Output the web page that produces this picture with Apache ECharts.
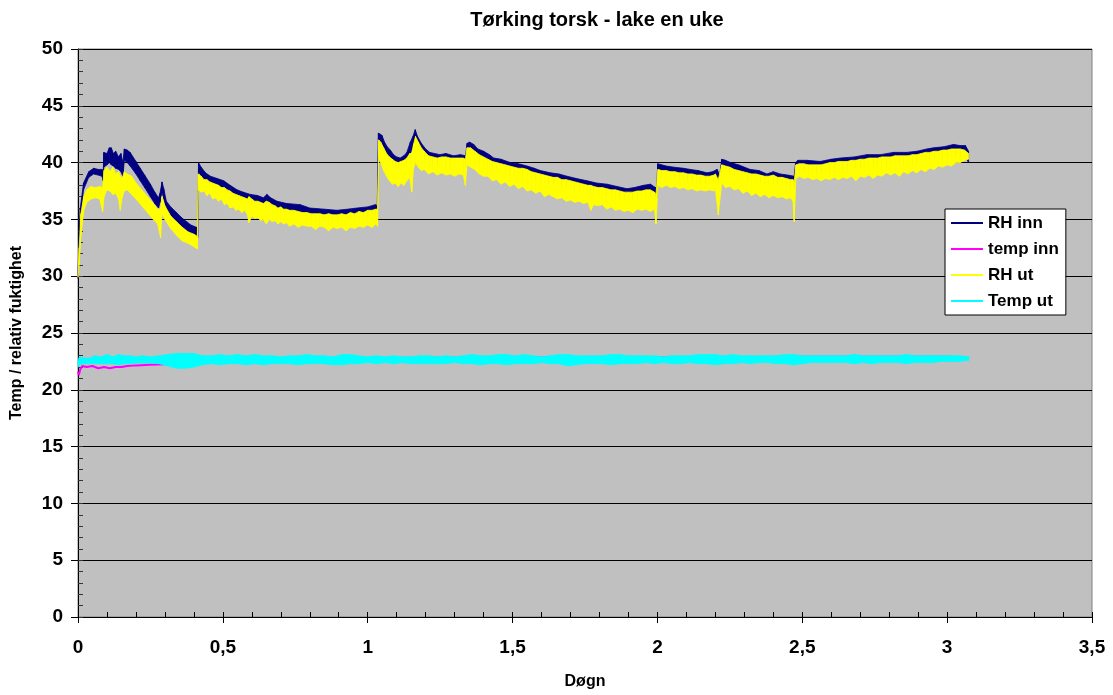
<!DOCTYPE html>
<html>
<head>
<meta charset="utf-8">
<title>Tørking torsk - lake en uke</title>
<script src="https://cdn.jsdelivr.net/npm/echarts@6/dist/echarts.min.js"></script>
<style>
html, body { margin: 0; padding: 0; background: #ffffff; }
#chart { width: 1113px; height: 695px; }
</style>
</head>
<body>
<div id="chart"></div>
<script>
// Døgn (x) and readings
const inX = [0, 0.004, 0.008, 0.019, 0.037, 0.054, 0.07, 0.083, 0.087, 0.089,
    0.1, 0.108, 0.115, 0.122, 0.13, 0.14, 0.148, 0.155, 0.16, 0.17,
    0.18, 0.2, 0.215, 0.23, 0.25, 0.265, 0.278, 0.283, 0.29, 0.296,
    0.305, 0.32, 0.34, 0.36, 0.375, 0.39, 0.409, 0.413, 0.416, 0.425,
    0.44, 0.457, 0.48, 0.503, 0.525, 0.549, 0.57, 0.595, 0.62, 0.64,
    0.652, 0.665, 0.687, 0.72, 0.767, 0.8, 0.85, 0.894, 0.93, 0.963,
    1.0, 1.026, 1.033, 1.037, 1.049, 1.058, 1.067, 1.078, 1.089, 1.1,
    1.112, 1.125, 1.135, 1.147, 1.156, 1.164, 1.172, 1.185, 1.2, 1.214,
    1.249, 1.27, 1.296, 1.32, 1.338, 1.343, 1.352, 1.366, 1.38, 1.4,
    1.42, 1.435, 1.46, 1.492, 1.52, 1.55, 1.575, 1.596, 1.63, 1.66,
    1.688, 1.72, 1.757, 1.79, 1.826, 1.86, 1.895, 1.92, 1.952, 1.976,
    1.993, 1.998, 2.001, 2.03, 2.056, 2.09, 2.113, 2.14, 2.171, 2.19,
    2.206, 2.215, 2.222, 2.235, 2.252, 2.28, 2.32, 2.35, 2.378, 2.4,
    2.424, 2.45, 2.472, 2.477, 2.485, 2.515, 2.562, 2.6, 2.631, 2.68,
    2.723, 2.77, 2.815, 2.86, 2.896, 2.93, 2.953, 2.99, 3.022, 3.045,
    3.063, 3.074];
const inHi = [30.2, 33.8, 36.0, 38.2, 39.2, 39.5, 39.4, 39.4, 39.2, 40.9,
    40.8, 41.3, 41.3, 40.8, 41.0, 40.5, 40.8, 40.0, 41.2, 41.1,
    40.9, 40.1, 39.5, 38.9, 38.1, 37.4, 36.9, 37.3, 38.3, 37.7,
    36.6, 36.1, 35.6, 35.1, 34.8, 34.5, 34.3, 34.1, 40.0, 39.6,
    39.1, 38.8, 38.6, 38.4, 38.0, 37.6, 37.4, 37.2, 37.1, 36.9,
    37.2, 36.9, 36.6, 36.4, 36.3, 36.0, 35.9, 35.8, 35.9, 36.0,
    36.1, 36.3, 36.2, 42.6, 42.4, 41.8, 41.4, 41.1, 40.7, 40.5,
    40.4, 40.6, 40.9, 41.8, 42.3, 42.9, 42.3, 41.7, 41.2, 40.9,
    40.7, 40.8, 40.6, 40.7, 40.6, 41.7, 41.8, 41.6, 41.2, 41.0,
    40.7, 40.4, 40.3, 40.0, 39.9, 39.7, 39.5, 39.3, 39.1, 39.0,
    38.8, 38.6, 38.4, 38.2, 38.1, 37.9, 37.7, 37.8, 38.0, 38.1,
    37.8, 37.9, 39.9, 39.7, 39.6, 39.5, 39.4, 39.3, 39.1, 39.2,
    39.4, 38.9, 40.3, 40.2, 40.0, 39.8, 39.4, 39.3, 39.0, 39.2,
    39.0, 38.9, 38.8, 40.0, 40.2, 40.2, 40.1, 40.3, 40.4, 40.5,
    40.7, 40.7, 40.9, 40.9, 41.0, 41.2, 41.3, 41.4, 41.6, 41.5,
    41.5, 41.0];
const inLo = [29.8, 32.8, 35.0, 37.6, 38.7, 39.0, 38.9, 38.8, 38.4, 39.6,
    39.8, 40.0, 39.8, 39.7, 39.5, 39.4, 39.2, 38.8, 40.2, 40.0,
    39.7, 39.0, 38.4, 37.8, 37.0, 36.4, 36.0, 36.5, 37.4, 36.8,
    35.8, 35.3, 34.8, 34.3, 34.0, 33.8, 33.6, 33.4, 39.2, 38.8,
    38.3, 38.0, 37.8, 37.6, 37.2, 36.8, 36.6, 36.4, 36.3, 36.1,
    36.4, 36.1, 35.8, 35.6, 35.5, 35.2, 35.1, 35.0, 35.1, 35.2,
    35.3, 35.5, 35.4, 41.6, 41.4, 40.8, 40.4, 40.1, 39.7, 39.5,
    39.4, 39.6, 39.9, 40.8, 41.3, 41.9, 41.3, 40.7, 40.2, 39.9,
    39.7, 39.8, 39.6, 39.7, 39.6, 40.7, 40.8, 40.6, 40.2, 40.0,
    39.7, 39.4, 39.3, 39.0, 38.9, 38.7, 38.5, 38.3, 38.1, 38.0,
    37.8, 37.6, 37.4, 37.2, 37.1, 36.9, 36.7, 36.8, 37.0, 37.1,
    36.8, 36.9, 38.9, 38.7, 38.6, 38.5, 38.4, 38.3, 38.1, 38.2,
    38.4, 37.9, 39.3, 39.2, 39.0, 38.8, 38.4, 38.3, 38.0, 38.2,
    38.0, 37.9, 37.8, 39.0, 39.2, 39.2, 39.1, 39.3, 39.4, 39.5,
    39.7, 39.7, 39.9, 39.9, 40.0, 40.2, 40.3, 40.4, 40.6, 40.5,
    40.5, 40.0];

const utX = [0, 0.004, 0.01, 0.02, 0.03, 0.045, 0.06, 0.075, 0.085, 0.09,
    0.1, 0.11, 0.12, 0.13, 0.14, 0.146, 0.152, 0.16, 0.17, 0.185,
    0.2, 0.22, 0.24, 0.26, 0.275, 0.285, 0.29, 0.3, 0.32, 0.34,
    0.36, 0.38, 0.4, 0.412, 0.415, 0.425, 0.435, 0.445, 0.455, 0.465,
    0.475, 0.485, 0.495, 0.505, 0.515, 0.525, 0.535, 0.545, 0.555, 0.565,
    0.575, 0.585, 0.59, 0.6, 0.61, 0.62, 0.63, 0.64, 0.65, 0.66,
    0.67, 0.68, 0.69, 0.7, 0.71, 0.72, 0.73, 0.745, 0.76, 0.775,
    0.79, 0.805, 0.82, 0.835, 0.85, 0.865, 0.88, 0.895, 0.91, 0.925,
    0.94, 0.955, 0.97, 0.985, 1.0, 1.015, 1.028, 1.034, 1.038, 1.045,
    1.055, 1.065, 1.075, 1.085, 1.095, 1.105, 1.115, 1.125, 1.135, 1.145,
    1.152, 1.158, 1.165, 1.175, 1.185, 1.195, 1.21, 1.225, 1.24, 1.255,
    1.27, 1.285, 1.3, 1.315, 1.33, 1.337, 1.343, 1.355, 1.37, 1.385,
    1.4, 1.415, 1.43, 1.445, 1.46, 1.475, 1.49, 1.505, 1.52, 1.535,
    1.55, 1.565, 1.58, 1.595, 1.61, 1.625, 1.64, 1.655, 1.67, 1.685,
    1.7, 1.715, 1.73, 1.745, 1.76, 1.77, 1.78, 1.795, 1.81, 1.825,
    1.84, 1.855, 1.87, 1.885, 1.9, 1.915, 1.93, 1.945, 1.96, 1.975,
    1.99, 1.995, 2.002, 2.015, 2.03, 2.045, 2.06, 2.075, 2.09, 2.105,
    2.12, 2.135, 2.15, 2.165, 2.18, 2.195, 2.2, 2.21, 2.222, 2.235,
    2.25, 2.265, 2.28, 2.295, 2.31, 2.325, 2.34, 2.355, 2.37, 2.385,
    2.4, 2.415, 2.43, 2.445, 2.46, 2.468, 2.472, 2.478, 2.49, 2.505,
    2.52, 2.535, 2.55, 2.565, 2.58, 2.595, 2.61, 2.625, 2.64, 2.655,
    2.67, 2.685, 2.7, 2.715, 2.73, 2.745, 2.76, 2.775, 2.79, 2.805,
    2.82, 2.835, 2.85, 2.865, 2.88, 2.895, 2.91, 2.925, 2.94, 2.955,
    2.97, 2.985, 3.0, 3.015, 3.03, 3.045, 3.06, 3.074];
const utHi = [30.0, 32.5, 35.5, 37.0, 37.6, 37.9, 37.8, 37.9, 37.8, 39.3,
    39.6, 39.2, 39.6, 39.0, 39.2, 38.8, 38.6, 39.2, 39.0, 38.8,
    38.2, 37.6, 37.0, 36.4, 35.9, 35.9, 37.0, 36.2, 35.3, 34.8,
    34.3, 33.9, 33.7, 33.5, 39.0, 38.8, 38.5, 38.5, 38.3, 38.2,
    38.1, 38.0, 37.8, 37.8, 37.6, 37.5, 37.3, 37.2, 37.1, 37.0,
    36.9, 36.8, 37.0, 36.8, 36.6, 36.6, 36.5, 36.4, 36.6, 36.5,
    36.3, 36.2, 36.0, 36.1, 35.9, 35.9, 35.8, 35.8, 35.7, 35.6,
    35.6, 35.5, 35.5, 35.5, 35.4, 35.5, 35.4, 35.4, 35.5, 35.4,
    35.6, 35.5, 35.7, 35.6, 35.8, 35.8, 35.9, 35.9, 42.0, 41.8,
    41.3, 40.8, 40.5, 40.3, 40.1, 40.0, 40.1, 40.2, 40.4, 40.8,
    40.8, 41.6, 42.3, 41.8, 41.3, 41.0, 40.6, 40.5, 40.4, 40.5,
    40.5, 40.4, 40.4, 40.4, 40.4, 40.3, 41.3, 41.3, 41.0, 40.7,
    40.5, 40.3, 40.1, 40.0, 39.9, 39.8, 39.7, 39.6, 39.5, 39.5,
    39.4, 39.2, 39.1, 39.0, 38.9, 38.8, 38.7, 38.7, 38.5, 38.5,
    38.4, 38.3, 38.2, 38.1, 38.0, 38.0, 37.9, 37.8, 37.8, 37.7,
    37.6, 37.6, 37.5, 37.4, 37.4, 37.4, 37.5, 37.5, 37.6, 37.6,
    37.4, 37.2, 39.4, 39.3, 39.3, 39.2, 39.2, 39.1, 39.1, 39.0,
    39.0, 38.9, 38.9, 38.8, 38.8, 38.9, 39.0, 38.5, 39.8, 39.7,
    39.6, 39.4, 39.3, 39.2, 39.1, 39.0, 39.0, 38.9, 38.8, 38.8,
    38.9, 38.7, 38.7, 38.6, 38.5, 38.5, 38.3, 39.8, 39.9, 39.9,
    39.8, 39.8, 39.8, 39.8, 39.9, 40.0, 40.0, 40.1, 40.1, 40.1,
    40.2, 40.2, 40.3, 40.3, 40.4, 40.4, 40.4, 40.5, 40.5, 40.5,
    40.6, 40.6, 40.6, 40.6, 40.7, 40.7, 40.8, 40.9, 40.9, 41.0,
    41.0, 41.1, 41.1, 41.2, 41.2, 41.2, 41.1, 40.8];
const utLo = [29.9, 31.0, 33.5, 35.8, 36.5, 36.8, 36.9, 36.8, 35.7, 37.0,
    37.6, 37.5, 37.2, 37.3, 36.8, 35.8, 36.9, 37.5, 37.6, 37.2,
    36.8, 36.2, 35.6, 35.0, 34.6, 33.4, 35.5, 35.0, 34.2, 33.6,
    33.1, 32.9, 32.6, 32.4, 37.6, 37.4, 37.5, 37.1, 37.3, 36.8,
    36.9, 36.6, 36.8, 36.3, 36.4, 36.0, 36.1, 35.8, 35.9, 35.6,
    35.8, 35.4, 34.7, 35.3, 35.1, 35.2, 34.9, 35.0, 34.6, 35.0,
    34.8, 34.9, 34.6, 34.8, 34.6, 34.7, 34.4, 34.6, 34.3, 34.5,
    34.4, 34.4, 34.1, 34.4, 34.3, 34.0, 34.3, 34.2, 34.3, 34.0,
    34.3, 34.2, 34.4, 34.3, 34.5, 34.3, 34.6, 34.4, 40.5, 40.0,
    39.3, 38.8, 38.4, 38.1, 38.2, 37.9, 38.2, 38.0, 38.4, 38.7,
    37.4, 39.5, 40.0, 39.6, 39.3, 39.4, 39.0, 39.2, 38.9, 39.1,
    38.9, 39.0, 38.8, 39.0, 38.9, 38.0, 39.8, 39.6, 39.4, 39.0,
    38.8, 38.8, 38.4, 38.5, 38.1, 38.3, 37.9, 38.1, 37.7, 37.9,
    37.5, 37.6, 37.3, 37.5, 37.0, 37.2, 37.0, 36.8, 36.9, 36.6,
    36.7, 36.5, 36.6, 36.4, 36.5, 35.8, 36.3, 36.2, 36.3, 35.9,
    36.1, 35.8, 35.9, 35.7, 35.8, 35.6, 35.9, 35.8, 35.9, 35.7,
    35.9, 34.6, 38.0, 37.8, 38.0, 37.8, 37.9, 37.7, 37.8, 37.6,
    37.7, 37.5, 37.6, 37.5, 37.6, 37.5, 37.7, 35.4, 38.2, 37.8,
    37.9, 37.6, 37.7, 37.3, 37.5, 37.1, 37.3, 37.0, 37.2, 36.9,
    37.1, 36.9, 37.0, 36.8, 36.9, 36.6, 34.8, 38.6, 38.8, 38.6,
    38.7, 38.5, 38.6, 38.4, 38.6, 38.5, 38.7, 38.5, 38.7, 38.6,
    38.8, 38.4, 38.8, 38.7, 38.9, 38.6, 38.9, 38.8, 39.1, 38.9,
    39.1, 38.8, 39.2, 39.0, 39.3, 39.1, 39.4, 39.2, 39.5, 39.4,
    39.7, 39.6, 39.8, 39.7, 40.0, 40.0, 40.2, 40.3];

const tinX = [0, 0.003, 0.008, 0.015, 0.03, 0.05, 0.07, 0.09, 0.11, 0.13,
    0.15, 0.17, 0.2, 0.25, 0.3, 0.35, 0.4, 0.6, 1.0, 1.5,
    2.0, 2.5, 3.0, 3.075];
const tinY = [21.6, 21.3, 21.8, 22.1, 22.0, 22.1, 21.9, 22.0, 21.9, 22.0,
    22.0, 22.1, 22.15, 22.2, 22.25, 22.4, 22.6, 22.7, 22.8, 22.85,
    22.85, 22.9, 22.9, 22.8];

const tutX = [0, 0.005, 0.02, 0.04, 0.06, 0.08, 0.1, 0.12, 0.14, 0.16,
    0.18, 0.2, 0.22, 0.25, 0.28, 0.31, 0.34, 0.37, 0.4, 0.43,
    0.46, 0.49, 0.52, 0.55, 0.58, 0.61, 0.64, 0.67, 0.7, 0.73,
    0.76, 0.79, 0.82, 0.85, 0.88, 0.91, 0.94, 0.97, 1.0, 1.03,
    1.06, 1.09, 1.12, 1.15, 1.18, 1.21, 1.24, 1.27, 1.3, 1.33,
    1.36, 1.39, 1.42, 1.45, 1.48, 1.51, 1.54, 1.57, 1.6, 1.63,
    1.66, 1.69, 1.72, 1.75, 1.78, 1.81, 1.84, 1.87, 1.9, 1.93,
    1.96, 1.99, 2.02, 2.05, 2.08, 2.11, 2.14, 2.17, 2.2, 2.23,
    2.26, 2.29, 2.32, 2.35, 2.38, 2.41, 2.44, 2.47, 2.5, 2.53,
    2.56, 2.59, 2.62, 2.65, 2.68, 2.71, 2.74, 2.77, 2.8, 2.83,
    2.86, 2.89, 2.92, 2.95, 2.98, 3.01, 3.04, 3.075];
const tutHi = [22.6, 22.9, 22.8, 22.8, 23.0, 22.9, 23.1, 22.9, 23.1, 23.0,
    23.0, 22.9, 23.0, 22.9, 23.0, 23.1, 23.2, 23.2, 23.2, 23.0,
    23.0, 23.1, 23.0, 23.1, 23.0, 23.1, 23.0, 23.0, 22.9, 23.0,
    23.0, 23.1, 23.0, 23.0, 22.9, 23.1, 23.1, 23.0, 22.9, 23.0,
    22.9, 23.0, 22.9, 22.9, 23.0, 23.0, 22.9, 23.0, 22.9, 23.0,
    23.1, 23.0, 23.0, 23.1, 23.1, 23.0, 23.1, 23.0, 22.9, 23.0,
    23.1, 23.1, 23.0, 23.0, 23.0, 23.0, 23.1, 23.1, 23.0, 23.0,
    23.0, 23.0, 22.9, 23.0, 23.0, 23.0, 23.1, 23.1, 23.1, 23.0,
    23.1, 23.0, 23.0, 23.0, 23.0, 23.0, 23.1, 23.1, 23.0, 23.0,
    23.0, 23.0, 23.0, 23.0, 23.1, 23.0, 23.0, 23.0, 23.0, 23.0,
    23.1, 23.0, 23.0, 23.0, 23.0, 23.0, 23.0, 22.9];
const tutLo = [22.0, 22.2, 22.3, 22.3, 22.3, 22.3, 22.3, 22.3, 22.2, 22.3,
    22.3, 22.35, 22.35, 22.35, 22.3, 22.1, 21.9, 21.9, 22.0, 22.2,
    22.3, 22.2, 22.3, 22.3, 22.2, 22.3, 22.2, 22.3, 22.3, 22.3,
    22.2, 22.3, 22.3, 22.3, 22.2, 22.2, 22.3, 22.3, 22.4, 22.3,
    22.4, 22.3, 22.4, 22.3, 22.3, 22.3, 22.3, 22.3, 22.4, 22.3,
    22.3, 22.2, 22.3, 22.3, 22.2, 22.3, 22.3, 22.3, 22.4, 22.3,
    22.3, 22.1, 22.2, 22.3, 22.3, 22.3, 22.2, 22.3, 22.3, 22.3,
    22.4, 22.3, 22.4, 22.3, 22.3, 22.4, 22.3, 22.3, 22.2, 22.3,
    22.3, 22.4, 22.3, 22.4, 22.4, 22.3, 22.3, 22.2, 22.3, 22.4,
    22.4, 22.4, 22.4, 22.4, 22.3, 22.4, 22.3, 22.4, 22.4, 22.4,
    22.3, 22.4, 22.4, 22.4, 22.5, 22.5, 22.5, 22.6];

const seriesNames = ['RH inn', 'temp inn', 'RH ut', 'Temp ut'];
const seriesColors = ['#000080', '#ff00ff', '#ffff00', '#00ffff'];

const FONT = "'Liberation Sans', Arial, sans-serif";

// quads between neighbouring readings: [x0, lo0, hi0, x1, lo1, hi1]
function bandSegments(xs, hi, lo) {
    const out = [];
    for (let i = 0; i < xs.length - 1; i++) {
        out.push([xs[i], lo[i], hi[i], xs[i + 1], lo[i + 1], hi[i + 1]]);
    }
    return out;
}

function bandSeries(name, color, xs, hi, lo, z) {
    return {
        name: name,
        type: 'custom',
        z: z,
        itemStyle: { color: color },
        silent: true,
        encode: { x: [0, 3], y: [1, 2, 4, 5] },
        data: bandSegments(xs, hi, lo),
        renderItem: function (params, api) {
            const pts = [
                api.coord([api.value(0), api.value(1)]),
                api.coord([api.value(3), api.value(4)]),
                api.coord([api.value(3), api.value(5)]),
                api.coord([api.value(0), api.value(2)])
            ];
            return {
                type: 'polygon',
                shape: { points: pts },
                style: { fill: color, stroke: color, lineWidth: 0.8 }
            };
        }
    };
}

const chart = echarts.init(document.getElementById('chart'), null, { renderer: 'canvas' });

var option = {
    backgroundColor: '#ffffff',
    animation: false,
    title: {
        text: 'Tørking torsk - lake en uke',
        left: 592,
        textAlign: 'center',
        top: 5,
        textStyle: { fontFamily: FONT, fontSize: 20, fontWeight: 'bold', color: '#000' }
    },
    legend: {
        data: seriesNames,
        orient: 'vertical',
        left: 945,
        top: 209,
        padding: [5, 7, 5, 6],
        itemGap: 8,
        itemWidth: 32,
        itemHeight: 2,
        icon: 'rect',
        backgroundColor: '#ffffff',
        borderColor: '#000000',
        borderWidth: 1,
        borderRadius: 0,
        textStyle: { fontFamily: FONT, fontSize: 17, fontWeight: 'bold', color: '#000', lineHeight: 18 }
    },
    grid: {
        left: 78, right: 21, top: 49, bottom: 77,
        show: true,
        backgroundColor: '#c0c0c0',
        borderColor: '#808080',
        borderWidth: 1
    },
    xAxis: [{
        type: 'value',
        position: 'bottom',
        min: 0, max: 3.5, interval: 0.5,
        name: 'Døgn',
        nameLocation: 'middle',
        nameGap: 57,
        nameTextStyle: { fontFamily: FONT, fontSize: 16, fontWeight: 'bold', color: '#000' },
        axisLine: { show: true, onZero: false, lineStyle: { color: '#000', width: 1 } },
        axisTick: { show: true, length: 6, lineStyle: { color: '#000' } },
        axisLabel: {
            margin: 21,
            fontFamily: FONT, fontSize: 19, fontWeight: 'bold', color: '#000',
            formatter: function (v) { return String(v).replace('.', ','); }
        },
        splitLine: { show: false }
    }, {
        type: 'value',
        position: 'bottom',
        min: 0, max: 3.5, interval: 0.1,
        axisLine: { show: false },
        axisTick: { show: true, inside: true, length: 5, lineStyle: { color: '#000' } },
        axisLabel: { show: false },
        splitLine: { show: false }
    }],
    yAxis: [{
        type: 'value',
        position: 'left',
        min: 0, max: 50, interval: 5,
        name: 'Temp / relativ fuktighet',
        nameLocation: 'middle',
        nameGap: 53,
        nameRotate: 90,
        nameTextStyle: { fontFamily: FONT, fontSize: 16, fontWeight: 'bold', color: '#000' },
        axisLine: { show: true, onZero: false, lineStyle: { color: '#000', width: 1 } },
        axisTick: { show: true, length: 7, lineStyle: { color: '#000' } },
        axisLabel: { margin: 15, fontFamily: FONT, fontSize: 19, fontWeight: 'bold', color: '#000' },
        splitLine: { show: true, lineStyle: { color: '#000', width: 1 } }
    }, {
        type: 'value',
        position: 'left',
        min: 0, max: 50, interval: 1,
        axisLine: { show: false },
        axisTick: { show: true, inside: true, length: 5, lineStyle: { color: '#333' } },
        axisLabel: { show: false },
        splitLine: { show: false }
    }],
    series: [
        bandSeries(seriesNames[0], seriesColors[0], inX, inHi, inLo, 2),
        {
            name: seriesNames[1],
            type: 'line',
            z: 3,
            showSymbol: false,
            symbol: 'none',
            itemStyle: { color: seriesColors[1] },
            lineStyle: { color: seriesColors[1], width: 2 },
            data: tinX.map(function (x, i) { return [x, tinY[i]]; })
        },
        bandSeries(seriesNames[2], seriesColors[2], utX, utHi, utLo, 4),
        bandSeries(seriesNames[3], seriesColors[3], tutX, tutHi, tutLo, 5)
    ]
};

chart.setOption(option);
</script>
</body>
</html>
